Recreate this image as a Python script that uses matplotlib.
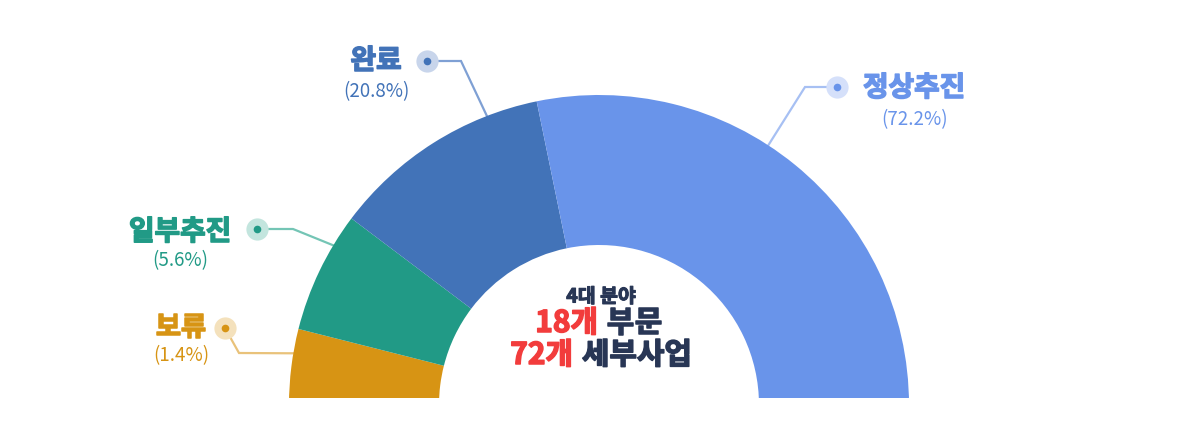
import numpy as np
import matplotlib
matplotlib.use("Agg")
import matplotlib.pyplot as plt
import matplotlib.patheffects as pe

plt.rcParams["font.family"] = ["Noto Sans CJK KR", "DejaVu Sans"]

# ---- data ----
labels = ["보류", "일부추진", "완료", "정상추진"]
pct_labels = [1.4, 5.6, 20.8, 72.2]
# drawn arc of each slice in degrees of the half ring (not the same as the %)
arc_deg = [14.2, 22.8, 41.4, 101.6]
center_lines = ["4대 분야", ("18개", "부문"), ("72개", "세부사업")]

# ---- styles ----
seg_colors = ["#D79414", "#219A86", "#4273B8", "#6994EA"]
line_colors = ["#E9C27A", "#74C5B5", "#7FA0D4", "#A7C0F3"]
halo_colors = ["#F4E1BC", "#C3E5DE", "#C8D5EB", "#D5E0FA"]
navy = "#283655"
red = "#F23C3C"

W, H = 1199, 445
cx, cy = 599, 405
r_out, r_in = 310, 160


def heavy(color, lw=1.1):
    # fake a heavier weight than the installed bold
    return [pe.withStroke(linewidth=lw, foreground=color)]


fig = plt.figure(figsize=(W / 100, H / 100), dpi=100)
ax = fig.add_axes([0, 47 / H, 1, 398 / H])

# half ring: a hidden wedge takes the lower half
vals = arc_deg + [sum(arc_deg)]
cols = seg_colors + ["none"]
wedges, _ = ax.pie(vals, colors=cols, startangle=180, counterclock=True,
                   center=(cx, cy), radius=r_out,
                   wedgeprops={"width": r_out - r_in, "linewidth": 0, "zorder": 3})
for w in wedges:
    w.set_clip_on(True)

ax.set_xlim(0, W)
ax.set_ylim(398, 0)
ax.set_aspect("equal")
ax.axis("off")

# leader layout: dot, elbow, angle (deg from the left) where it meets the ring
dots = [(225, 328), (257, 229), (427, 61), (837, 87)]
elbows = [(239, 353), (293, 229), (461, 61), (805, 87)]
hit_ang = [9.6, 31.0, 68.8, 123.1]
title_xy = [(181, 328), (180, 232), (376, 61), (914, 88)]
pct_xy = [(181, 356), (180, 261), (376, 92), (915, 120)]

for i in range(len(labels)):
    a = np.radians(hit_ang[i])
    ex = cx - r_out * np.cos(a)
    ey = cy - r_out * np.sin(a)
    (dx, dy), (bx, by) = dots[i], elbows[i]
    ax.plot([dx, bx, ex], [dy, by, ey], color=line_colors[i], lw=1.6,
            zorder=2, solid_joinstyle="miter")
    ax.plot(dx, dy, "o", ms=16, color=halo_colors[i], mec="none", zorder=4)
    ax.plot(dx, dy, "o", ms=5.5, color=seg_colors[i], mec="none", zorder=5)
    ax.text(title_xy[i][0], title_xy[i][1], labels[i], color=seg_colors[i],
            fontsize=20, fontweight="bold", ha="center", va="center",
            path_effects=heavy(seg_colors[i]))
    ax.text(pct_xy[i][0], pct_xy[i][1], f"({pct_labels[i]}%)",
            color=seg_colors[i], fontsize=13.5, fontweight="light",
            ha="center", va="center")

# centre text
ax.text(601, 297, center_lines[0], color=navy, fontsize=14,
        fontweight="bold", ha="center", va="center",
        path_effects=heavy(navy, 0.8))
ax.text(598, 323, center_lines[1][0], color=red, fontsize=21.5,
        fontweight="bold", ha="right", va="center", path_effects=heavy(red))
ax.text(607, 323, center_lines[1][1], color=navy, fontsize=21.5,
        fontweight="bold", ha="left", va="center", path_effects=heavy(navy))
ax.text(573, 355, center_lines[2][0], color=red, fontsize=21.5,
        fontweight="bold", ha="right", va="center", path_effects=heavy(red))
ax.text(582, 355, center_lines[2][1], color=navy, fontsize=21.5,
        fontweight="bold", ha="left", va="center", path_effects=heavy(navy))

fig.savefig("out.png", dpi=100, facecolor="white")
